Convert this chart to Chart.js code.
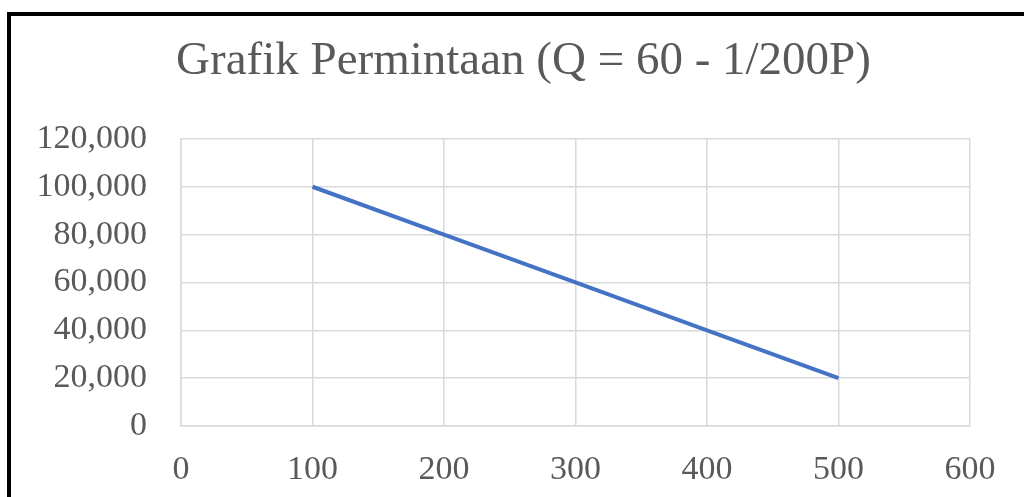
<!DOCTYPE html>
<html lang="id">
<head>
<meta charset="UTF-8">
<title>Grafik Permintaan</title>
<script src="https://cdn.jsdelivr.net/npm/chart.js"></script>
<style>
    html, body {
        margin: 0;
        padding: 0;
        background: #ffffff;
        overflow: hidden;
    }
    .wrap {
        position: absolute;
        left: 0;
        top: 0;
        width: 1024px;
        height: 497px;
    }
    .frame {
        position: absolute;
        left: 7px;
        top: 12px;
        width: 1100px;
        height: 600px;
        border-top: 4px solid #000;
        border-left: 4px solid #000;
        pointer-events: none;
    }
</style>
</head>
<body>
<div class="wrap"><canvas id="demandChart" width="1024" height="497"></canvas></div>
<div class="frame"></div>
<script>
    // data
    const prices = [100, 200, 300, 400, 500];
    const quantities = [100000, 80000, 60000, 40000, 20000];
    const xTicks = [0, 100, 200, 300, 400, 500, 600];
    const yTicks = [0, 20000, 40000, 60000, 80000, 100000, 120000];

    const titleText = 'Grafik Permintaan (Q = 60 - 1/200P)';
    const textColor = '#595959';
    const gridColor = '#d9d9d9';
    const serif = "'Liberation Serif', 'Times New Roman', serif";

    // the original title is centred a little right of the canvas middle
    const titleShift = {
        id: 'titleShift',
        afterLayout: chart => {
            if (chart.titleBlock) chart.titleBlock.left = 77;
        }
    };

    const ctx = document.getElementById('demandChart').getContext('2d');

    new Chart(ctx, {
        type: 'scatter',
        data: {
            datasets: [{
                label: 'Permintaan',
                data: prices.map((p, i) => ({ x: p, y: quantities[i] })),
                showLine: true,
                borderColor: '#4472C4',
                backgroundColor: '#4472C4',
                borderWidth: 4,
                pointRadius: 0,
                tension: 0
            }]
        },
        plugins: [titleShift],
        options: {
            responsive: false,
            animation: false,
            layout: {
                padding: { left: 23, right: 54, top: 0, bottom: 0 }
            },
            plugins: {
                legend: { display: false },
                tooltip: { enabled: false },
                title: {
                    display: true,
                    text: titleText,
                    color: textColor,
                    font: { family: serif, size: 47, weight: 'normal' },
                    padding: { top: 33.5, bottom: 49 }
                }
            },
            scales: {
                x: {
                    type: 'linear',
                    min: xTicks[0],
                    max: xTicks[xTicks.length - 1],
                    afterBuildTicks: scale => {
                        scale.ticks = xTicks.map(v => ({ value: v }));
                    },
                    afterFit: scale => {
                        scale.height = 71;
                    },
                    ticks: {
                        color: textColor,
                        font: { family: serif, size: 34 },
                        padding: 24,
                        maxRotation: 0,
                        callback: v => v.toString()
                    },
                    grid: { color: gridColor, lineWidth: 1.5, drawTicks: false },
                    border: { color: gridColor, width: 1.5 }
                },
                y: {
                    type: 'linear',
                    min: yTicks[0],
                    max: yTicks[yTicks.length - 1],
                    afterBuildTicks: scale => {
                        scale.ticks = yTicks.map(v => ({ value: v }));
                    },
                    afterFit: scale => {
                        scale.width = 158;
                    },
                    ticks: {
                        color: textColor,
                        font: { family: serif, size: 34 },
                        padding: 34,
                        callback: v => v.toLocaleString('en-US')
                    },
                    grid: { color: gridColor, lineWidth: 1.5, drawTicks: false },
                    border: { color: gridColor, width: 1.5 }
                }
            }
        }
    });
</script>
</body>
</html>
